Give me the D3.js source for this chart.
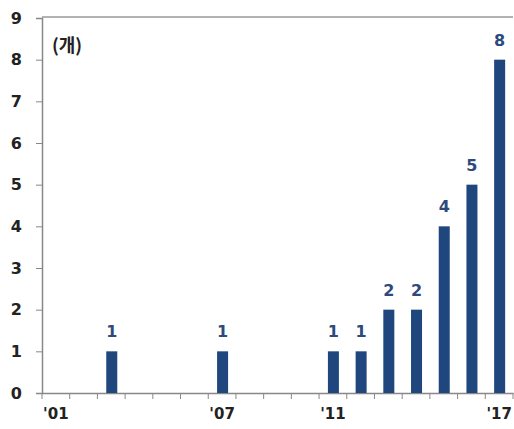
<!DOCTYPE html>
<html><head><meta charset="utf-8">
<script src="https://cdn.jsdelivr.net/npm/d3@7/dist/d3.min.js"></script>
<style>body{margin:0;background:#fff}svg{display:block}</style>
</head><body><svg id="c" width="514" height="429"></svg>
<script>
const years = ["01","02","03","04","05","06","07","08","09","10","11","12","13","14","15","16","17"];
const values = [0,0,1,0,0,0,1,0,0,0,1,1,2,2,4,5,8];
const shownYearLabels = ["01","07","11","17"];
const yTicks = [0,1,2,3,4,5,6,7,8,9];
const unitLabel = "(개)";

(function(){
const svg = d3.select("#c");
const mL = 42, mR = 513, mT = 18, mB = 393;
const x = d3.scaleBand().domain(years).range([mL, mR]).paddingInner(0).paddingOuter(0);
const y = d3.scaleLinear().domain([0, 9]).range([mB, mT]);

svg.append("line").attr("x1", mL).attr("x2", mR).attr("y1", mT-1).attr("y2", mT-1)
  .attr("stroke", "#999").attr("stroke-width", 1.5);

const yAxis = svg.append("g").attr("transform", `translate(${mL},0)`)
  .call(d3.axisLeft(y).tickValues(yTicks).tickSize(6).tickPadding(14).tickFormat(d3.format("d")));
yAxis.select(".domain").attr("stroke", "#888").attr("stroke-width", 1.5);
yAxis.selectAll(".tick line").attr("stroke", "#888");
yAxis.selectAll(".tick text").attr("font-family", "'DejaVu Sans', sans-serif")
  .attr("font-weight", "bold").attr("font-size", 16).attr("fill", "#222");
yAxis.selectAll(".tick").filter(d => d === 9).select("line").remove();

const xAxis = svg.append("g").attr("transform", `translate(0,${mB})`)
  .call(d3.axisBottom(x).tickSize(0).tickPadding(15).tickFormat(d => shownYearLabels.includes(d) ? "'" + d : ""));
xAxis.select(".domain").attr("stroke", "#888").attr("stroke-width", 1.5);
xAxis.selectAll(".tick text").attr("font-family", "'DejaVu Sans', sans-serif")
  .attr("font-weight", "bold").attr("font-size", 15).attr("fill", "#222");
const bounds = years.map(d => x(d)).concat([mR]);
svg.append("g").selectAll("line").data(bounds).join("line")
  .attr("x1", d => d).attr("x2", d => d).attr("y1", mB).attr("y2", mB + 6)
  .attr("stroke", "#888");

const bw = 11;
const data = years.map((yr, i) => ({yr, v: values[i]})).filter(d => d.v > 0);
svg.append("g").selectAll("rect").data(data).join("rect")
  .attr("x", d => x(d.yr) + x.bandwidth()/2 - bw/2 + 0.5)
  .attr("width", bw)
  .attr("y", d => y(d.v))
  .attr("height", d => mB - y(d.v))
  .attr("fill", "#1f467d");

svg.append("g").selectAll("text").data(data).join("text")
  .attr("x", d => x(d.yr) + x.bandwidth()/2 + 0.5)
  .attr("y", d => y(d.v) - 14)
  .attr("text-anchor", "middle")
  .attr("font-family", "'DejaVu Sans', sans-serif").attr("font-weight", "bold")
  .attr("font-size", 16).attr("fill", "#2e4a7a")
  .text(d => d.v);

svg.append("text").attr("x", 52).attr("y", 52)
  .attr("font-family", "'Noto Sans CJK KR', sans-serif").attr("font-weight", "bold")
  .attr("font-size", 18).attr("fill", "#222").text(unitLabel);
})();
</script></body></html>
